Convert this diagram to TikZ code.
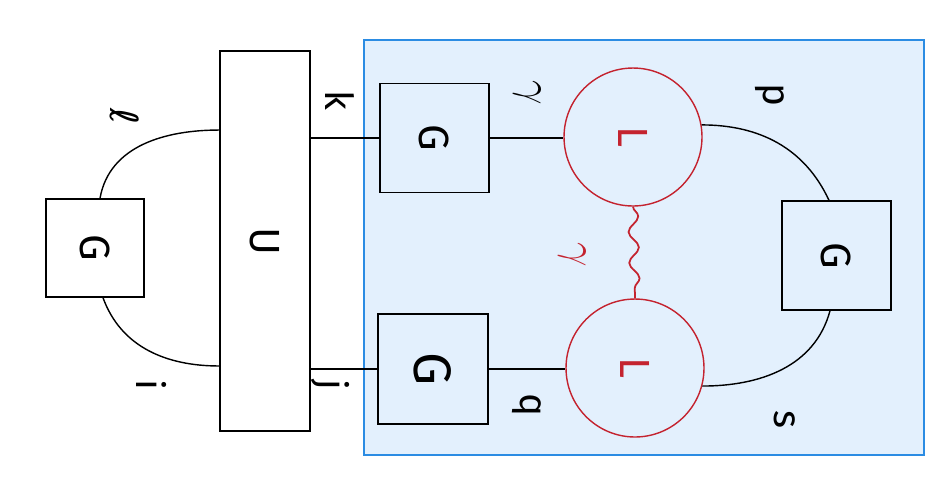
\documentclass[tikz,border=0pt]{standalone}
\usepackage{fontspec}
\setmainfont{Fira Sans}
\newfontfamily\symf{DejaVu Sans}
\usetikzlibrary{decorations.pathmorphing}
\definecolor{pred}{HTML}{C4232F}
\definecolor{pblue}{HTML}{2B8CE3}
\definecolor{pfill}{HTML}{E3F0FD}
\tikzset{
  sqbox/.style={draw=black, line width=0.8pt, fill=white, inner sep=0pt},
  inbox/.style={draw=black, line width=0.8pt, fill=pfill, inner sep=0pt},
  vtx/.style={circle, draw=pred, line width=0.8pt, inner sep=0pt, minimum size=2.76cm},
  glyph/.style={rotate=-90, font=\fontsize{24}{28}\selectfont},
  lbl/.style={rotate=-90, font=\fontsize{22}{26}\selectfont},
  glbl/.style={rotate=-90, font=\fontsize{32}{36}\selectfont},
  wire/.style={line width=0.8pt},
}
\begin{document}
\begin{tikzpicture}[x=0.02cm, y=-0.02cm]
\useasboundingbox (0,0) rectangle (952,478);
% shaded region
\draw[draw=pblue, fill=pfill, line width=1pt] (364,40) rectangle (924,455);
% nodes
\node[sqbox, minimum width=1.8cm, minimum height=7.6cm] (C) at (265,241) {};
\node[glyph] at (C.center) {U};
\node[sqbox, minimum size=1.96cm] (Gl) at (95,248) {};
\node[glyph] at (Gl.center) {G};
\node[inbox, minimum size=2.18cm] (Gt) at (434.5,138) {};
\node[glyph] at (Gt.center) {G};
\node[inbox, minimum size=2.2cm] (Gb) at (433,369) {};
\node[glyph, font=\fontsize{30}{34}\selectfont] at (Gb.center) {G};
\node[inbox, minimum size=2.18cm] (Gr) at (836.5,255.5) {};
\node[glyph] at (Gr.center) {G};
\node[vtx, fill=pfill] (Lt) at (633,137) {};
\node[glyph, text=pred] at (Lt.center) {L};
\node[vtx, fill=pfill] (Lb) at (635,368) {};
\node[glyph, text=pred] at (Lb.center) {L};
% connectors
\draw[wire] ([xshift=0.1cm]Gl.north) to[out=80, in=180] ([yshift=2.22cm]C.west);
\draw[wire] ([xshift=0.16cm]Gl.south) to[out=-70, in=180] ([yshift=-2.5cm]C.west);
\draw[wire] (Gt.west -| C.east) -- (Gt.west);
\draw[wire] (Gb.west -| C.east) -- (Gb.west);
\draw[wire] (Gt.east) -- (Gt.east -| Lt.west);
\draw[wire] (Gb.east) -- (Gb.east -| Lb.west);
\draw[wire] (Lt.10) to[out=0, in=115] ([xshift=-0.15cm]Gr.north);
\draw[wire] (Lb.-15) to[out=0, in=-105] ([xshift=-0.13cm]Gr.south);
\draw[pred, line width=1pt, decorate, decoration={snake, amplitude=0.1cm, segment length=0.62cm}] (Lt.south) -- (Lb.north);
% labels
\node[lbl] (ll) at (125,116) {{\symf ℓ}};
\node[lbl] (li) at (152,385) {i};
\node[lbl] (lk) at (340,100) {k};
\node[lbl] (lj) at (330,385) {j};
\node[glbl] (lga) at (527,93) {$\gamma$};
\node[glbl, text=pred] (lgb) at (572,255) {$\gamma$};
\node[lbl] (lp) at (770,95) {p};
\node[lbl] (lq) at (527,405) {q};
\node[lbl] (ls) at (785,420) {s};
\end{tikzpicture}
\end{document}
